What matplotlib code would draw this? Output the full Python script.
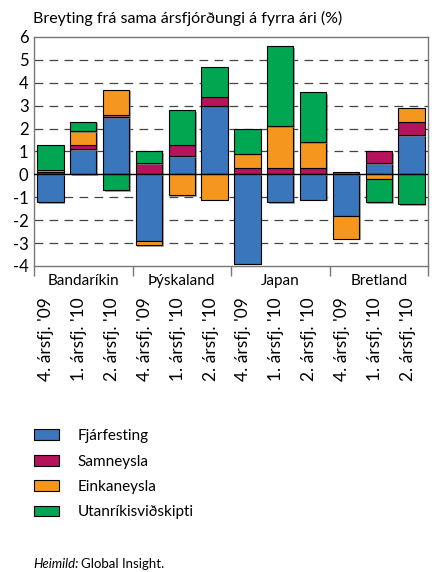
import numpy as np
import matplotlib
matplotlib.use("Agg")
import matplotlib.pyplot as plt
import matplotlib.transforms as mtransforms
import matplotlib.patheffects as pe
from matplotlib.patches import Patch

plt.rcParams['font.family'] = ['Lato', 'DejaVu Sans']

# Data
countries = ['Bandaríkin', 'Þýskaland', 'Japan', 'Bretland']
quarters = ["4. ársfj. '09", "1. ársfj. '10", "2. ársfj. '10"]
series_names = ['Fjárfesting', 'Samneysla', 'Einkaneysla', 'Utanríkisviðskipti']
fjarfesting = [-1.2, 1.1, 2.5, -2.9, 0.8, 3.0, -3.9, -1.2, -1.1, -1.8, 0.5, 1.7]
samneysla = [0.12, 0.2, 0.1, 0.5, 0.5, 0.4, 0.3, 0.3, 0.3, 0.0, 0.5, 0.6]
einkaneysla = [0.08, 0.6, 1.1, -0.2, -0.9, -1.1, 0.6, 1.8, 1.1, -1.0, -0.2, 0.6]
utanrikis = [1.1, 0.4, -0.7, 0.5, 1.5, 1.3, 1.1, 3.5, 2.2, 0.1, -1.0, -1.3]
colors = ['#3a76bb', '#b5135c', '#f5961f', '#00a651']

fig = plt.figure(figsize=(4.32, 5.72), dpi=100)
ax = fig.add_axes([34/432, 1-266/572, 394/432, 229/572])

n = len(fjarfesting)
x = np.arange(n) + 0.5
pos_base = np.zeros(n)
neg_base = np.zeros(n)
shadow = [pe.SimplePatchShadow(offset=(1.2, -1.2), shadow_rgbFace='#808080', alpha=0.7), pe.Normal()]
for vals, col in zip([fjarfesting, samneysla, einkaneysla, utanrikis], colors):
    v = np.array(vals)
    bottom = np.where(v >= 0, pos_base, neg_base)
    bars = ax.bar(x, v, 0.8, bottom=bottom, color=col, edgecolor='black', linewidth=0.8, zorder=3)
    for b in bars:
        b.set_path_effects(shadow)
    pos_base += np.where(v >= 0, v, 0)
    neg_base += np.where(v < 0, v, 0)

ax.set_xlim(0, n)
ax.set_ylim(-4, 6)
ax.set_yticks(range(-4, 7))
ax.set_yticklabels([str(t) for t in range(-4, 7)], fontsize=12)
ax.tick_params(axis='y', length=0, pad=4)
for t in range(-3, 6):
    if t != 0:
        ax.axhline(t, color='#444444', lw=0.9, dashes=(7, 5), zorder=1)
ax.axhline(0, color='black', lw=1.0, zorder=4)

for s in ax.spines.values():
    s.set_color('#777777')
    s.set_linewidth(1.0)

# group separators and country labels
ax.set_xticks(np.arange(0, n + 1, 3))
ax.set_xticklabels([])
ax.tick_params(axis='x', length=7, color='#777777', width=1.0)
trans = mtransforms.blended_transform_factory(ax.transData, ax.transAxes)
for i, c in enumerate(countries):
    ax.text(i*3 + 1.5, -0.065, c, transform=trans, ha='center', va='center', fontsize=11)

offset = mtransforms.ScaledTranslation(-4/100, 0, fig.dpi_scale_trans)
for i in range(n):
    ax.text(x[i], -0.135, quarters[i % 3], transform=trans + offset, rotation=90,
            ha='center', va='top', fontsize=12.5)

fig.text(33/432, 1-18/572, 'Breyting frá sama ársfjórðungi á fyrra ári (%)',
         ha='left', va='center', fontsize=11.5)

handles = [Patch(facecolor=c, edgecolor='black', linewidth=0.8) for c in colors]
fig.legend(handles, series_names, loc='upper left', bbox_to_anchor=(28/432, 1-423/572),
           frameon=False, fontsize=11, handlelength=1.65, handleheight=0.7,
           handletextpad=1.2, labelspacing=0.75, borderaxespad=0)

t1 = fig.text(33/432, 1-564/572, 'Heimild:', style='italic', ha='left', va='center', fontsize=9.5)
fig.canvas.draw()
bb = t1.get_window_extent()
fig.text((bb.x1 + 3)/432, 1-564/572, 'Global Insight.', ha='left', va='center', fontsize=9.5)

fig.savefig('out.png', dpi=100)
